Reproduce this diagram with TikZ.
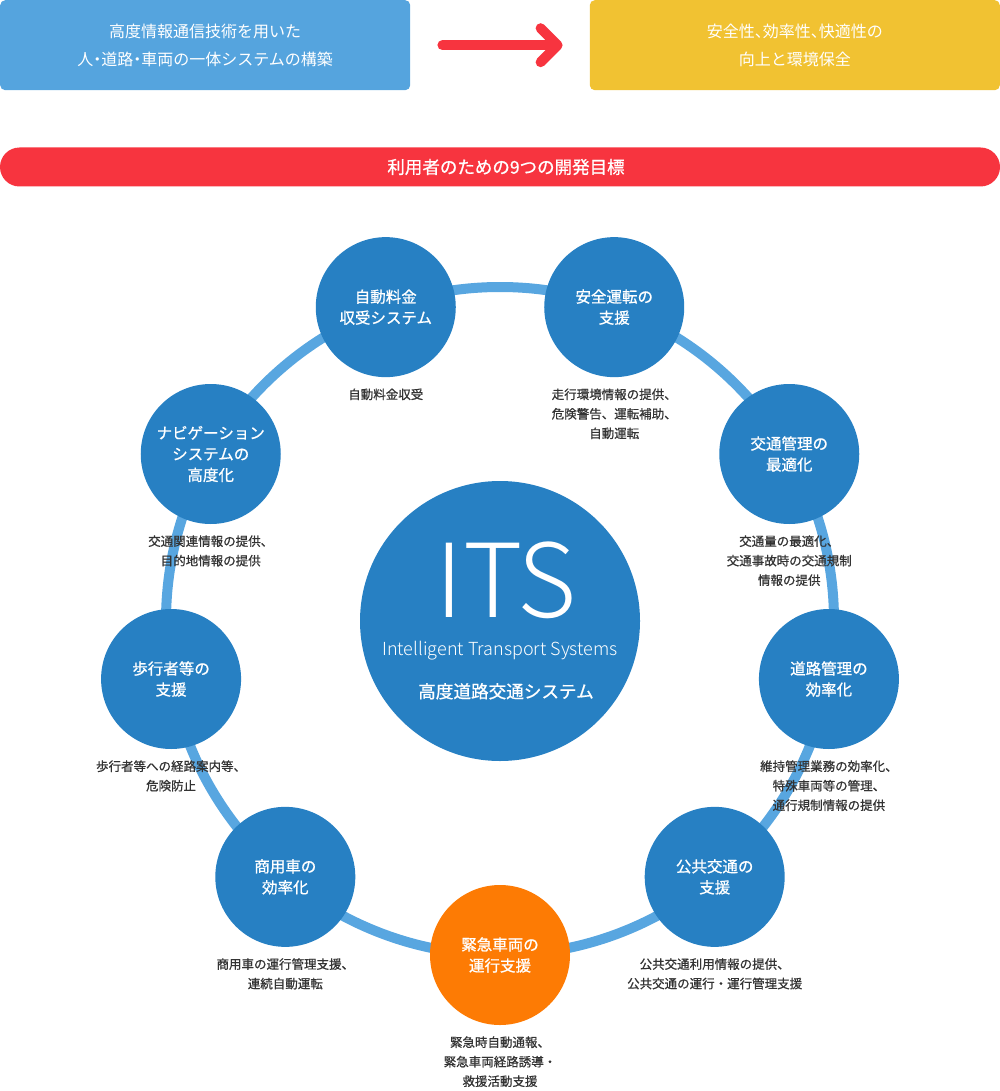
\documentclass[tikz,border=0pt]{standalone}
\usepackage{fontspec}
\setmainfont{Noto Sans CJK JP}
\newfontfamily\jpmed{Noto Sans CJK JP}[FakeBold=0.8]
\IfFontExistsTF{Noto Sans CJK JP Light}
  {\newfontfamily\itslight{Noto Sans CJK JP Light}\def\itsbig{102}\def\itssmall{18}}
  {\IfFontExistsTF{SourceSansPro-Light.otf}
    {\newfontfamily\itslight{SourceSansPro-Light.otf}\def\itsbig{113}\def\itssmall{20}}
    {\newfontfamily\itslight{Noto Sans CJK JP}\def\itsbig{95}\def\itssmall{17.4}}}
\newcommand\halfpunct[1]{{\addfontfeature{RawFeature=+halt}#1}}
\usetikzlibrary{arrows.meta, positioning}
\definecolor{goalblue}{HTML}{55A4DE}
\definecolor{goalyellow}{HTML}{F1C232}
\definecolor{goalred}{HTML}{F7343F}
\definecolor{itsblue}{HTML}{2780C3}
\definecolor{ringblue}{HTML}{58A6E0}
\definecolor{sosorange}{HTML}{FD7B04}
\definecolor{desctext}{HTML}{333333}
\begin{document}
\begin{tikzpicture}[
  x=1pt, y=1pt,
  node distance=11pt,
  goalbox/.style={rounded corners=5pt, minimum width=410pt, minimum height=90pt, inner sep=0pt, text=white, align=center, font=\fontsize{16}{27.5}\selectfont},
  goalbar/.style={fill=goalred, rounded corners=19.5pt, minimum width=1000pt, minimum height=39pt, inner sep=0pt, text=white, font=\jpmed\fontsize{17.5}{20}\selectfont},
  bigarrow/.style={-{Straight Barb[length=17pt, width=34pt, round]}, line width=10pt, line cap=round, draw=goalred, shorten <=32pt, shorten >=27pt},
  ring/.style={draw=ringblue, line width=10pt},
  hubdisc/.style={circle, fill=itsblue, minimum size=280pt, inner sep=0pt},
  goal/.style={circle, fill=itsblue, minimum size=140pt, inner sep=0pt, text=white, align=center, font=\jpmed\fontsize{15.5}{21}\selectfont},
  desc/.style={align=center, inner sep=0pt, text=desctext, font=\jpmed\fontsize{12.5}{19.5}\selectfont}
]
  \useasboundingbox (0,0) rectangle (1000,-1091);

  \node[goalbox, fill=goalblue, anchor=north west] (means) at (0,0) {高度情報通信技術を用いた\\人\halfpunct{・}道路\halfpunct{・}車両の一体システムの構築};
  \node[goalbox, fill=goalyellow, anchor=north east] (ends) at (1000,0) {安全性\halfpunct{、}効率性\halfpunct{、}快適性の\\向上と環境保全};
  \draw[bigarrow] (means) -- (ends);

  \node[goalbar] (goals) at (500,-167) {\hspace*{12pt}利用者のための9つの開発目標};

  \coordinate (hub) at (500,-621);
  \draw[ring] (hub) circle[radius=334pt];

  \node[hubdisc] (its) at (hub) {};
  \node[anchor=base, inner sep=0pt, text=white, font=\itslight\fontsize{\itsbig}{\itsbig}\selectfont] (itsabbr) at (506,-617) {ITS};
  \node[anchor=base, inner sep=0pt, text=white, font=\itslight\fontsize{\itssmall}{20}\selectfont] (itsfull) at (500,-655) {Intelligent Transport Systems};
  \node[anchor=base, inner sep=0pt, text=white, font=\jpmed\fontsize{17.6}{20}\selectfont] (itsname) at (506,-698) {高度道路交通システム};

  \node[goal] (toll) at ([shift={(110:334pt)}]hub) {自動料金\\収受システム};
  \node[goal] (safety) at ([shift={(70:334pt)}]hub) {安全運転の\\支援};
  \node[goal] (traffic) at ([shift={(30:334pt)}]hub) {交通管理の\\最適化};
  \node[goal] (road) at ([shift={(-10:334pt)}]hub) {道路管理の\\効率化};
  \node[goal] (transit) at ([shift={(-50:334pt)}]hub) {公共交通の\\支援};
  \node[goal, fill=sosorange] (rescue) at ([shift={(-90:334pt)}]hub) {緊急車両の\\運行支援};
  \node[goal] (freight) at ([shift={(230:334pt)}]hub) {商用車の\\効率化};
  \node[goal] (walker) at ([shift={(190:334pt)}]hub) {歩行者等の\\支援};
  \node[goal] (navi) at ([shift={(150:334pt)}]hub) {ナビゲーション\\システムの\\高度化};

  \node[desc, below=of toll] (tolldesc) {自動料金収受};
  \node[desc, below=of safety] (safetydesc) {走行環境情報の提供、\\危険警告、運転補助、\\自動運転};
  \node[desc, below=of traffic] (trafficdesc) {交通量の最適化、\\交通事故時の交通規制\\情報の提供};
  \node[desc, below=of road] (roaddesc) {維持管理業務の効率化、\\特殊車両等の管理、\\通行規制情報の提供};
  \node[desc, below=of transit] (transitdesc) {公共交通利用情報の提供、\\公共交通の運行・運行管理支援};
  \node[desc, below=of rescue] (rescuedesc) {緊急時自動通報、\\緊急車両経路誘導・\\救援活動支援};
  \node[desc, below=of freight] (freightdesc) {商用車の運行管理支援、\\連続自動運転};
  \node[desc, below=of walker] (walkerdesc) {歩行者等への経路案内等、\\危険防止};
  \node[desc, below=of navi] (navidesc) {交通関連情報の提供、\\目的地情報の提供};
\end{tikzpicture}
\end{document}
